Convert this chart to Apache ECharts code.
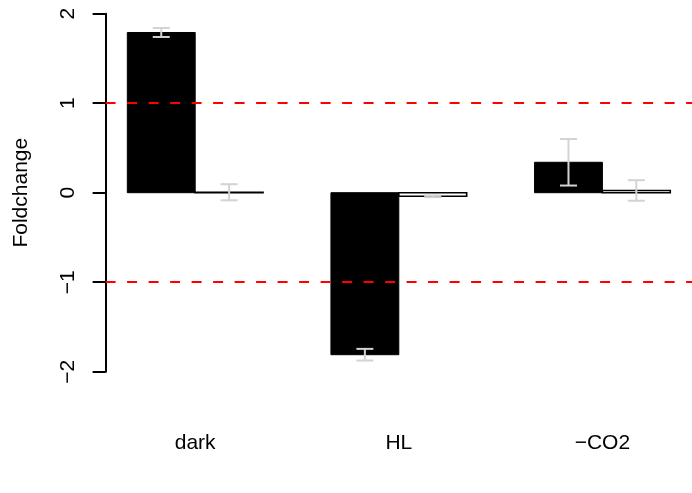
<!DOCTYPE html>
<html>
<head>
<meta charset="utf-8">
<script src="https://cdn.jsdelivr.net/npm/echarts@6/dist/echarts.min.js"></script>
<style>html,body{margin:0;padding:0;background:#fff;}#c{width:692px;height:493px;}</style>
</head>
<body>
<div id="c"></div>
<script>
// ---- data ----
var categories = ['dark', 'HL', '\u2212CO2'];
var series1 = [1.79, -1.81, 0.34];      // black bars
var err1 = [0.05, 0.065, 0.26];
var series2 = [0.005, -0.04, 0.025];    // white bars
var err2 = [0.09, 0.01, 0.115];
var refLines = [1, -1];
var yTicks = [-2, -1, 0, 1, 2];

// ---- layout helpers (barplot beside: bar width 1, group space 1) ----
function pos(i, j) { return i * 3 + 1.5 + j; }
var labelPos = categories.map(function (c, i) { return i * 3 + 2; });

var blackData = categories.map(function (c, i) { return [pos(i, 0), series1[i]]; });
var whiteData = categories.map(function (c, i) { return [pos(i, 1), series2[i]]; });
var errData = [];
categories.forEach(function (c, i) {
  errData.push([pos(i, 0), series1[i], err1[i]]);
  errData.push([pos(i, 1), series2[i], err2[i]]);
});

function barRenderer(fill, stroke, lw) {
  return function (params, api) {
    var x = api.value(0), y = api.value(1);
    var a = api.coord([x - 0.5, y]);
    var b = api.coord([x + 0.5, 0]);
    return {
      type: 'rect',
      shape: { x: a[0], y: Math.min(a[1], b[1]), width: b[0] - a[0], height: Math.abs(b[1] - a[1]) },
      style: { fill: fill, stroke: stroke, lineWidth: lw }
    };
  };
}

function errRenderer(params, api) {
  var x = api.value(0), y = api.value(1), e = api.value(2);
  var top = api.coord([x, y + e]);
  var bot = api.coord([x, y - e]);
  var cap = 8.5;
  var st = { stroke: '#d3d3d3', lineWidth: 2, fill: null };
  return {
    type: 'group',
    children: [
      { type: 'line', shape: { x1: top[0], y1: top[1], x2: bot[0], y2: bot[1] }, style: st },
      { type: 'line', shape: { x1: top[0] - cap, y1: top[1], x2: top[0] + cap, y2: top[1] }, style: st },
      { type: 'line', shape: { x1: bot[0] - cap, y1: bot[1], x2: bot[0] + cap, y2: bot[1] }, style: st }
    ]
  };
}

var font = 'Liberation Sans, Arial, Helvetica, sans-serif';
var chart = echarts.init(document.getElementById('c'), null, { renderer: 'canvas' });
chart.setOption({
  animation: false,
  backgroundColor: '#fff',
  grid: { left: 105.6, top: 13.7, width: 590, height: 358, containLabel: false },
  xAxis: {
    type: 'value', min: 0.68, max: 9.32,
    axisLine: { show: false, onZero: false },
    axisTick: { show: false },
    splitLine: { show: false },
    axisLabel: {
      customValues: labelPos,
      formatter: function (v) {
        var idx = labelPos.indexOf(v);
        return idx >= 0 ? categories[idx] : '';
      },
      margin: 61, fontSize: 21, color: '#000', fontFamily: font
    }
  },
  yAxis: {
    type: 'value', min: yTicks[0], max: yTicks[yTicks.length - 1], interval: 1,
    name: 'Foldchange', nameLocation: 'middle', nameRotate: 90, nameGap: 74,
    nameTextStyle: { fontSize: 21, color: '#000', fontFamily: font },
    axisLine: { show: true, onZero: false, lineStyle: { color: '#000', width: 2 } },
    axisTick: { show: true, length: 13, lineStyle: { color: '#000', width: 2 } },
    splitLine: { show: false },
    axisLabel: {
      rotate: 90, margin: 27, fontSize: 21, color: '#000', fontFamily: font,
      formatter: function (v) { return v < 0 ? '\u2212' + Math.abs(v) : String(v); }
    }
  },
  series: [
    { type: 'custom', name: 's1', data: blackData, renderItem: barRenderer('#000', '#000', 1), z: 2, silent: true },
    { type: 'custom', name: 's2', data: whiteData, renderItem: barRenderer('#fff', '#000', 1.6), z: 2, silent: true },
    { type: 'custom', name: 'err', data: errData, renderItem: errRenderer, z: 3, silent: true },
    {
      type: 'line', data: [], z: 4, silent: true,
      markLine: {
        symbol: 'none', silent: true, label: { show: false },
        lineStyle: { color: '#ff0000', type: [10, 11.5], width: 2 },
        data: refLines.map(function (v) { return { yAxis: v }; })
      }
    }
  ]
});
</script>
</body>
</html>
